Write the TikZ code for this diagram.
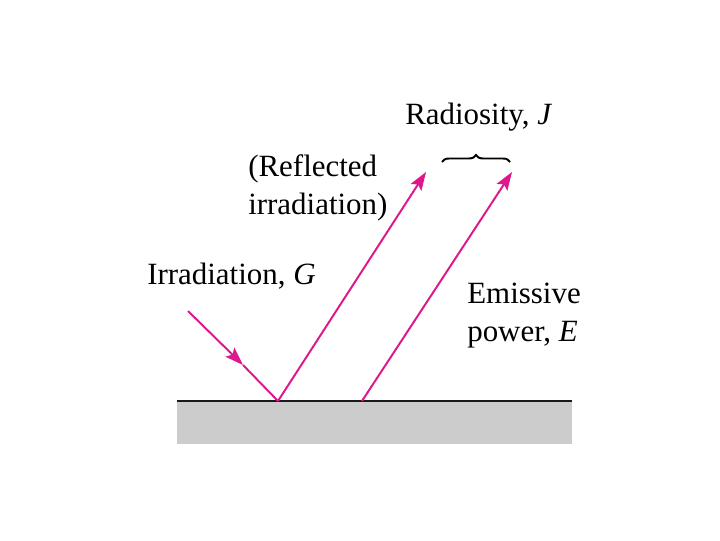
\documentclass[tikz,border=0pt]{standalone}
\usepackage{fontspec}
\setmainfont{Liberation Serif}
\usetikzlibrary{arrows.meta,decorations.pathreplacing}
\definecolor{raycol}{RGB}{222,24,140}
\begin{document}
\begin{tikzpicture}[x=0.025cm,y=-0.025cm,
    ray/.style={draw=raycol,line width=1.4pt},
    tip/.style={-{Stealth[length=13pt,width=9pt,inset=2.5pt]}},
    lbl/.style={font=\fontsize{22}{27}\selectfont,align=left,inner sep=0pt,anchor=west}]

    \useasboundingbox (0,0) rectangle (720,540);

    % surface
    \fill[black!20] (177,401) rectangle (572,444);
    \draw[line width=1.8pt,black!90] (177,401) -- (572,401);

    % points on the rays
    \coordinate (g0) at (188,311);
    \coordinate (gm) at (243,365);
    \coordinate (hit) at (278,401);
    \coordinate (e0) at (362,401);
    \coordinate (rtip) at (426,172);
    \coordinate (etip) at (512,172);

    \draw[ray,tip] (g0) -- (gm);
    \draw[ray] (gm) -- (hit);
    \draw[ray,tip] (hit) -- (rtip);
    \draw[ray,tip] (e0) -- (etip);

    % brace
    \draw[line width=1.4pt,decorate,decoration={brace,amplitude=5pt}] (442,162) -- (510,162);

    \node[lbl] (J) at (405,117) {Radiosity, \textit{J}};
    \node[lbl] (refl) at (248,188) {(Reflected\\irradiation)};
    \node[lbl] (G) at (147,276) {Irradiation, \textit{G}};
    \node[lbl] (E) at (467,316) {Emissive\\power, \textit{E}};

\end{tikzpicture}
\end{document}
